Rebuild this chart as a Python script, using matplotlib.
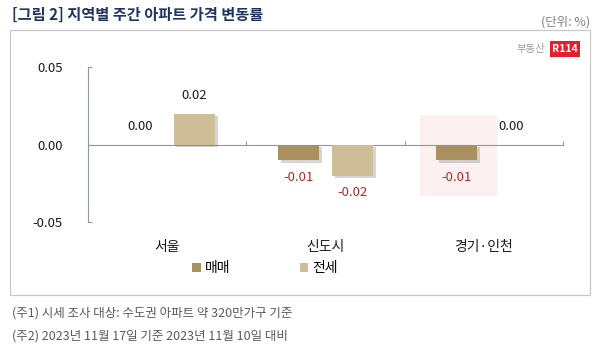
import matplotlib
matplotlib.use("Agg")
import matplotlib.pyplot as plt
import matplotlib.patheffects as pe
from matplotlib.patches import Rectangle
import numpy as np

plt.rcParams['font.family'] = ['Noto Sans CJK KR', 'DejaVu Sans']

categories = ['서울', '신도시', '경기·인천']
series_names = ['매매', '전세']
sale = [0.00, -0.01, -0.01]
jeonse = [0.02, -0.02, 0.00]
yticks = [-0.05, 0.00, 0.05]

title = '[그림 2] 지역별 주간 아파트 가격 변동률'
unit = '(단위: %)'
notes = ['(주1) 시세 조사 대상: 수도권 아파트 약 320만가구 기준',
         '(주2) 2023년 11월 17일 기준 2023년 11월 10일 대비']

c_sale = '#a8915f'
c_jeonse = '#cdbe97'
c_axis = '#8c97a8'

W, H = 600, 351
fig = plt.figure(figsize=(6, 3.51), dpi=100)

# outer box
fig.patches.append(Rectangle((10 / W, 1 - 295 / H), 580 / W, 265 / H, transform=fig.transFigure,
                             fill=False, edgecolor='#c8c8c8', linewidth=0.9))

fig.text(12 / W, 1 - 15 / H, title, fontsize=11, fontweight='bold', color='#1f3560', va='center', ha='left')
fig.text(590 / W, 1 - 22 / H, unit, fontsize=9, color='#808080', va='center', ha='right')

# logo
fig.text(545 / W, 1 - 49 / H, '부동산', fontsize=7.5, color='#9a9a9a', va='center', ha='right')
fig.text(565 / W, 1 - 49 / H, 'R114', fontsize=7.5, fontweight='bold', color='white', va='center', ha='center',
         bbox=dict(boxstyle='square,pad=0.25', facecolor='#e3202c', edgecolor='none'))

ax = fig.add_axes([88 / W, 1 - 222 / H, (563 - 88) / W, 155 / H])
ax.set_facecolor('none')
# faint watermark behind the bars
ax.add_patch(Rectangle((420 / W, 1 - 196 / H), 77 / W, 81 / H, transform=fig.transFigure,
                       facecolor='#fdf0f1', edgecolor='none', zorder=1))

x = np.arange(len(categories))
off = 0.171
bw = 0.26
shadow = [pe.SimplePatchShadow(offset=(2, -2), shadow_rgbFace='#777777', alpha=0.3), pe.Normal()]
b1 = ax.bar(x - off, sale, bw, color=c_sale, zorder=3, label=series_names[0])
b2 = ax.bar(x + off, jeonse, bw, color=c_jeonse, zorder=3, label=series_names[1])
for b in list(b1) + list(b2):
    if b.get_height() != 0:
        b.set_path_effects(shadow)

for xs, vals in ((x - off, sale), (x + off, jeonse)):
    for xi, v in zip(xs, vals):
        if v < 0:
            ax.text(xi, v - 0.007, f'{v:.2f}', ha='center', va='top', fontsize=9.5, color='#b02a2a', zorder=4)
        else:
            ax.text(xi, v + 0.0075, f'{v:.2f}', ha='center', va='bottom', fontsize=9.5, color='#1a1a1a', zorder=4)

ax.set_xlim(-0.5, len(categories) - 0.5)
ax.set_ylim(-0.05, 0.05)
ax.set_yticks(yticks)
ax.set_yticklabels([f'{t:.2f}' for t in yticks], fontsize=9.5, color='#1a1a1a')
ax.tick_params(axis='y', direction='in', length=3, color=c_axis, pad=18)
ax.spines['left'].set_color(c_axis)
ax.spines['bottom'].set_position(('data', 0))
ax.spines['bottom'].set_color(c_axis)
ax.spines['bottom'].set_zorder(2)
ax.spines['top'].set_visible(False)
ax.spines['right'].set_visible(False)
ax.set_xticks(np.arange(len(categories) + 1) - 0.5)
ax.set_xticklabels([])
ax.tick_params(axis='x', direction='in', length=3, color=c_axis)
for xi, c in zip(x, categories):
    ax.text(xi, -0.066, c, ha='center', va='center', fontsize=10, color='#1a1a1a')

leg = fig.legend(handles=[b1, b2], labels=series_names, loc='center', bbox_to_anchor=(265 / W, 1 - 268 / H),
                 ncol=2, frameon=False, fontsize=10, handlelength=0.6, handleheight=0.6,
                 columnspacing=5, handletextpad=0.3)
for h in leg.legend_handles:
    h.set_path_effects([])

for i, n in enumerate(notes):
    fig.text(12 / W, 1 - (313 + 23 * i) / H, n, fontsize=9, color='#5a5a5a', va='center', ha='left')

fig.savefig('out.png', dpi=100)
